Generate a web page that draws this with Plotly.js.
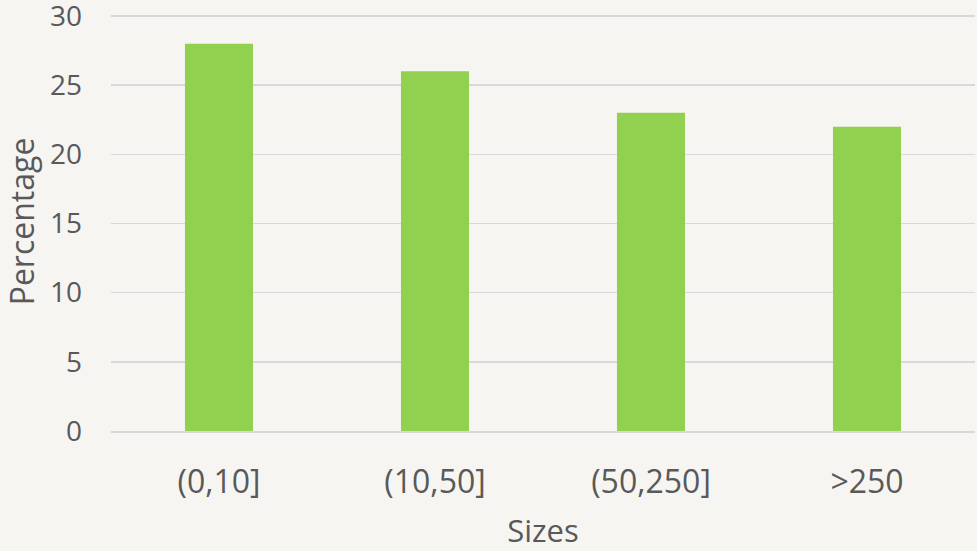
<!DOCTYPE html>
<html>
<head>
<meta charset="utf-8">
<script src="https://cdn.plot.ly/plotly-3.0.1.min.js"></script>
<style>html,body{margin:0;padding:0;background:#f7f5f2;}#chart{width:977px;height:551px;}</style>
</head>
<body>
<div id="chart"></div>
<script>
var categories = ["(0,10]", "(10,50]", "(50,250]", ">250"];
var percentages = [28, 26, 23, 22];
var yTicks = [0, 5, 10, 15, 20, 25, 30];

var fontFamily = "'Open Sans', 'Noto Sans', sans-serif";
var textColor = "#595959";

Plotly.newPlot("chart", [{
  type: "bar",
  x: categories,
  y: percentages,
  marker: {color: "#92d050"},
  hoverinfo: "x+y"
}], {
  width: 977,
  height: 551,
  paper_bgcolor: "#f7f5f2",
  plot_bgcolor: "#f7f5f2",
  margin: {l: 111, r: 2, t: 12, b: 120},
  bargap: 0.685,
  showlegend: false,
  font: {family: fontFamily, color: textColor, size: 28},
  xaxis: {
    type: "category",
    tickfont: {size: 32, color: textColor},
    ticks: "",
    ticklabelstandoff: 22,
    ticklabeloverflow: "allow",
    showgrid: false,
    showline: true,
    linecolor: "#d9d9d9",
    linewidth: 2,
    zeroline: false,
    title: {text: "Sizes", font: {size: 31, color: textColor}, standoff: 21}
  },
  yaxis: {
    range: [0, 30.29],
    tickvals: yTicks,
    tickfont: {size: 28, color: textColor},
    ticks: "",
    ticklabelstandoff: 28,
    ticklabeloverflow: "allow",
    showgrid: true,
    gridcolor: "#d9d9d9",
    gridwidth: 1.5,
    zeroline: false,
    showline: false,
    title: {text: "Percentage", font: {size: 32, color: textColor}, standoff: 10}
  }
}, {displayModeBar: false, staticPlot: true});
</script>
</body>
</html>
